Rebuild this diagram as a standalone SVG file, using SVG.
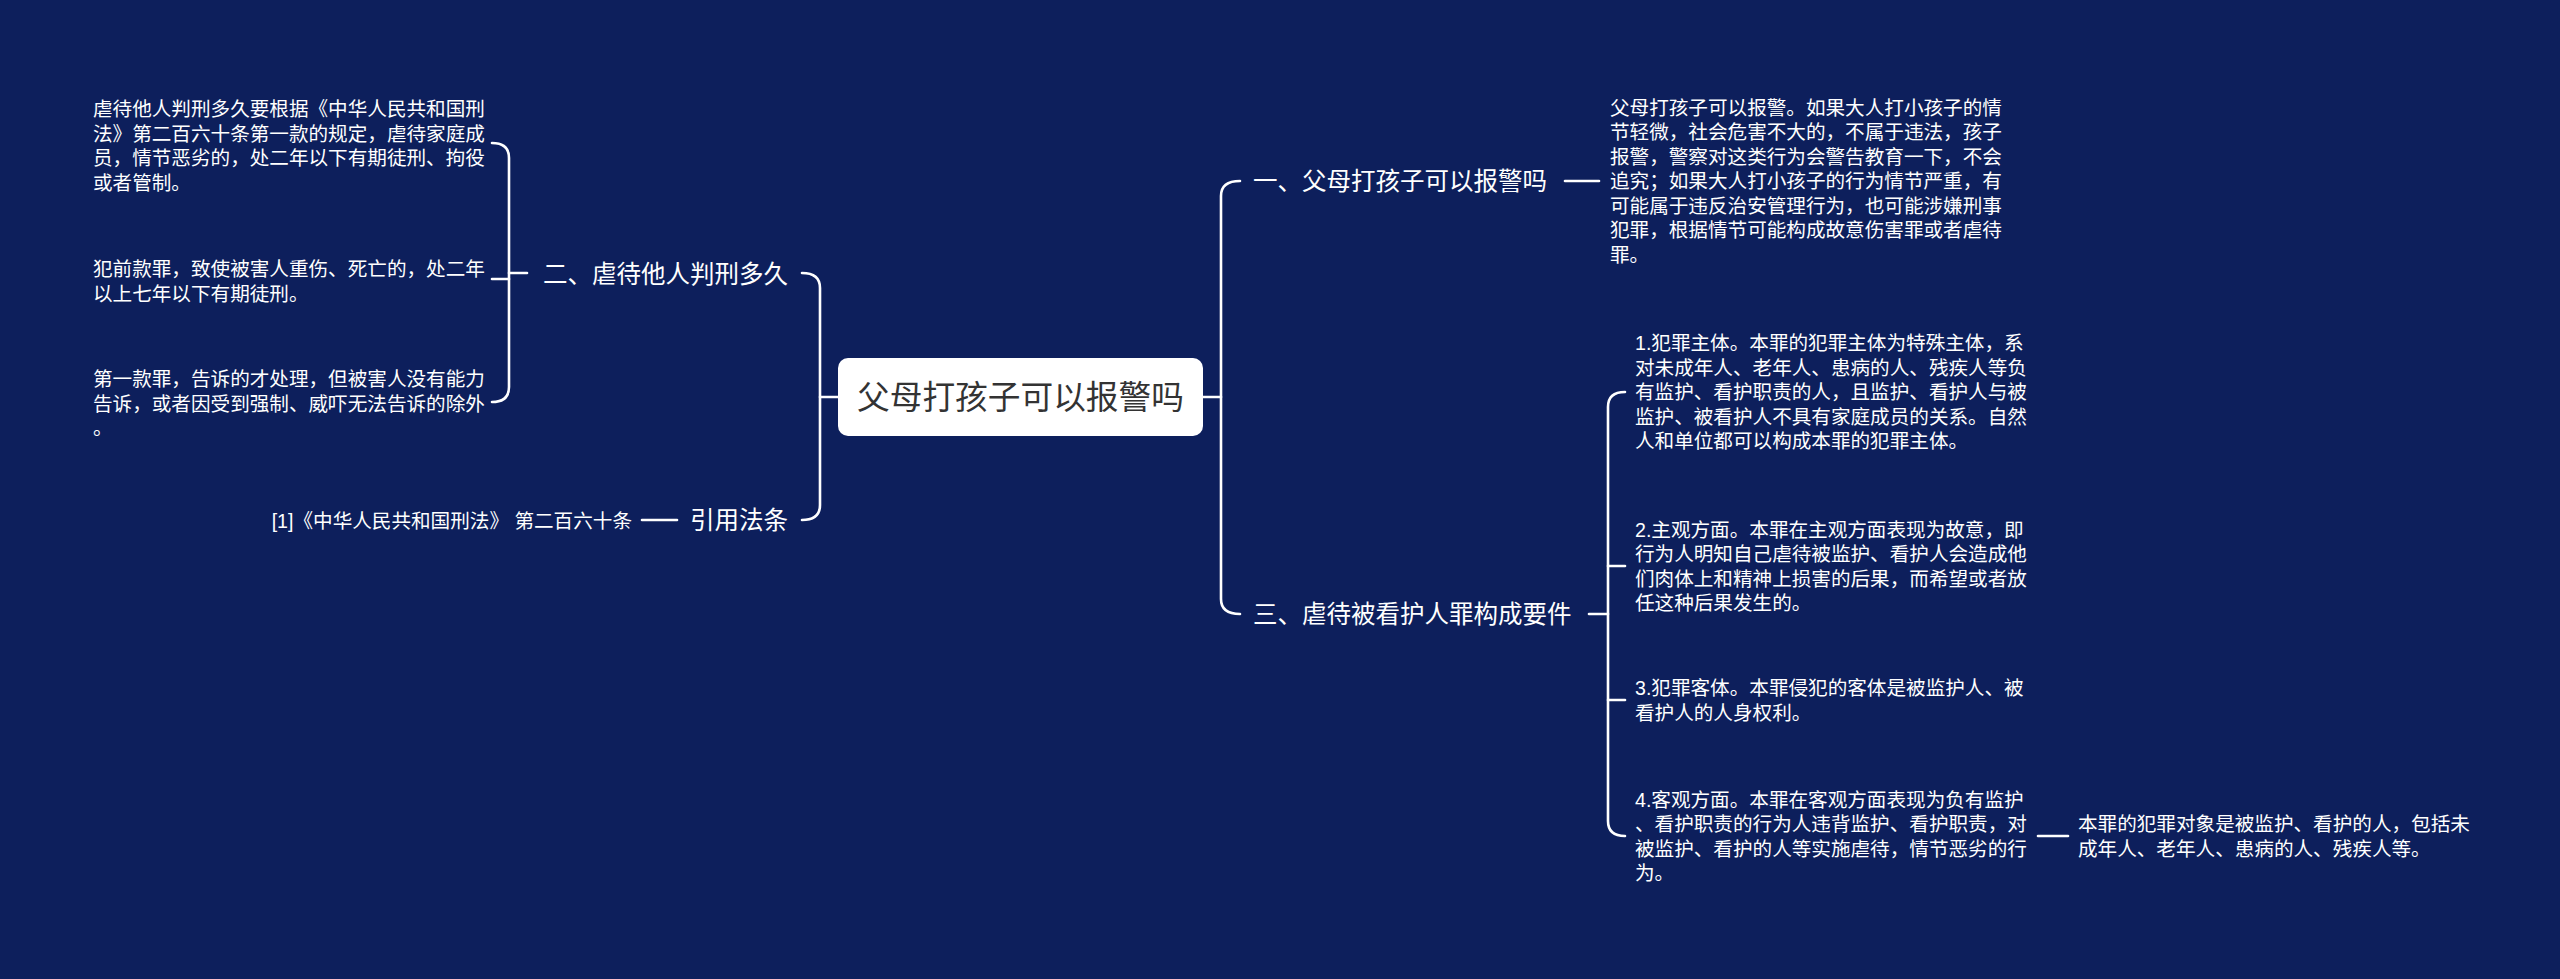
<svg xmlns="http://www.w3.org/2000/svg" width="2560" height="979" viewBox="0 0 2560 979">
<style>
.bg{fill:#0d1f5c}
.ln{fill:none;stroke:#ffffff;stroke-width:2.6;stroke-linecap:round}
.t{font-family:"Liberation Sans","Noto Sans CJK SC",sans-serif;fill:#ffffff}
.s{font-size:19.6px}
.m{font-size:24.5px}
.c{font-size:32.7px;fill:#333333}
</style>
<rect class="bg" x="0" y="0" width="2560" height="979"/>
<g id="connectors">
<path class="ln" d="M838,397 H820"/>
<path class="ln" d="M802,273 Q820,273 820,288 V505 Q820,520 802,520"/>
<path class="ln" d="M527,273 H509"/>
<path class="ln" d="M492,143 Q509,143 509,158 V387 Q509,402 492,402"/>
<path class="ln" d="M492,279 H509"/>
<path class="ln" d="M642,520 H677"/>
<path class="ln" d="M1203,397 H1221"/>
<path class="ln" d="M1240,181 Q1221,181 1221,196 V599 Q1221,614 1240,614"/>
<path class="ln" d="M1565,181 H1599"/>
<path class="ln" d="M1589,614 H1608"/>
<path class="ln" d="M1625,392 Q1608,392 1608,407 V821 Q1608,836 1625,836"/>
<path class="ln" d="M1608,566 H1625"/>
<path class="ln" d="M1608,700 H1625"/>
<path class="ln" d="M2038,836 H2068"/>
</g>
<g id="root">
<rect x="838" y="358" width="365" height="78" rx="10" fill="#ffffff"/>
<text class="t c" x="1020.5" y="409" text-anchor="middle">父母打孩子可以报警吗</text>
</g>
<g id="branch2">
<text class="t m" x="788" y="282.5" text-anchor="end">二、虐待他人判刑多久</text>
</g>
<g id="b2-p1">
<text class="t s"><tspan x="93" y="116.4">虐待他人判刑多久要根据《中华人民共和国刑</tspan><tspan x="93" y="140.9">法》第二百六十条第一款的规定，虐待家庭成</tspan><tspan x="93" y="165.4">员，情节恶劣的，处二年以下有期徒刑、拘役</tspan><tspan x="93" y="189.9">或者管制。</tspan></text>
</g>
<g id="b2-p2">
<text class="t s"><tspan x="93" y="276">犯前款罪，致使被害人重伤、死亡的，处二年</tspan><tspan x="93" y="300.5">以上七年以下有期徒刑。</tspan></text>
</g>
<g id="b2-p3">
<text class="t s"><tspan x="93" y="386">第一款罪，告诉的才处理，但被害人没有能力</tspan><tspan x="93" y="410.5">告诉，或者因受到强制、威吓无法告诉的除外</tspan><tspan x="93" y="435">。</tspan></text>
</g>
<g id="branch-ref">
<text class="t m" x="788" y="529" text-anchor="end">引用法条</text>
</g>
<g id="ref-item">
<text class="t s" x="632" y="527.5" text-anchor="end">[1]《中华人民共和国刑法》 第二百六十条</text>
</g>
<g id="branch1">
<text class="t m" x="1253" y="190">一、父母打孩子可以报警吗</text>
</g>
<g id="b1-p1">
<text class="t s"><tspan x="1610" y="114.9">父母打孩子可以报警。如果大人打小孩子的情</tspan><tspan x="1610" y="139.4">节轻微，社会危害不大的，不属于违法，孩子</tspan><tspan x="1610" y="163.9">报警，警察对这类行为会警告教育一下，不会</tspan><tspan x="1610" y="188.4">追究；如果大人打小孩子的行为情节严重，有</tspan><tspan x="1610" y="212.9">可能属于违反治安管理行为，也可能涉嫌刑事</tspan><tspan x="1610" y="237.4">犯罪，根据情节可能构成故意伤害罪或者虐待</tspan><tspan x="1610" y="261.9">罪。</tspan></text>
</g>
<g id="branch3">
<text class="t m" x="1253" y="623">三、虐待被看护人罪构成要件</text>
</g>
<g id="b3-i1">
<text class="t s"><tspan x="1635" y="350.4">1.犯罪主体。本罪的犯罪主体为特殊主体，系</tspan><tspan x="1635" y="374.9">对未成年人、老年人、患病的人、残疾人等负</tspan><tspan x="1635" y="399.4">有监护、看护职责的人，且监护、看护人与被</tspan><tspan x="1635" y="423.9">监护、被看护人不具有家庭成员的关系。自然</tspan><tspan x="1635" y="448.4">人和单位都可以构成本罪的犯罪主体。</tspan></text>
</g>
<g id="b3-i2">
<text class="t s"><tspan x="1635" y="536.6">2.主观方面。本罪在主观方面表现为故意，即</tspan><tspan x="1635" y="561.1">行为人明知自己虐待被监护、看护人会造成他</tspan><tspan x="1635" y="585.6">们肉体上和精神上损害的后果，而希望或者放</tspan><tspan x="1635" y="610.1">任这种后果发生的。</tspan></text>
</g>
<g id="b3-i3">
<text class="t s"><tspan x="1635" y="695.1">3.犯罪客体。本罪侵犯的客体是被监护人、被</tspan><tspan x="1635" y="719.6">看护人的人身权利。</tspan></text>
</g>
<g id="b3-i4">
<text class="t s"><tspan x="1635" y="806.6">4.客观方面。本罪在客观方面表现为负有监护</tspan><tspan x="1635" y="831.1">、看护职责的行为人违背监护、看护职责，对</tspan><tspan x="1635" y="855.6">被监护、看护的人等实施虐待，情节恶劣的行</tspan><tspan x="1635" y="880.1">为。</tspan></text>
</g>
<g id="b3-i4-leaf">
<text class="t s"><tspan x="2078" y="831.1">本罪的犯罪对象是被监护、看护的人，包括未</tspan><tspan x="2078" y="855.6">成年人、老年人、患病的人、残疾人等。</tspan></text>
</g>
</svg>
